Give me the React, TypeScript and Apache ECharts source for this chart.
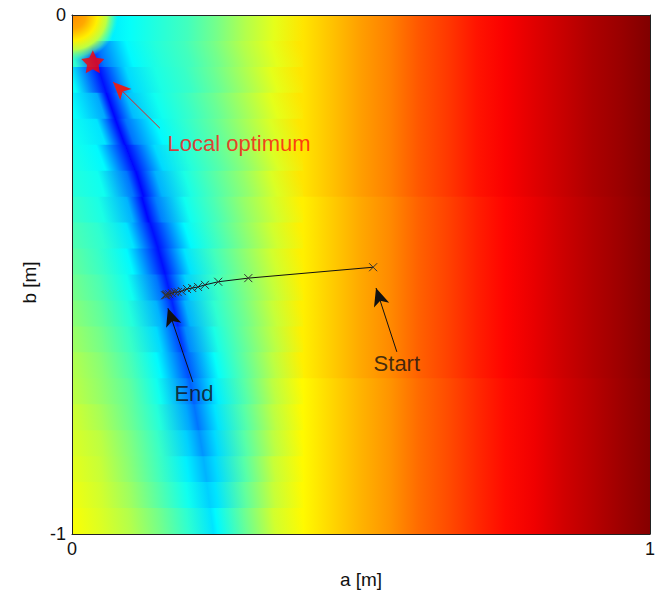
import React, { useEffect, useRef } from "react";
import * as echarts from "echarts";

// ---- Field (cost surface) ----
// column positions along a [m]
const aColumns = [0, 0.05, 0.1, 0.15, 0.2, 0.25, 0.3, 0.35, 0.4, 0.45, 0.5, 0.55, 0.6, 0.65, 0.7, 0.75, 0.8, 0.85, 0.9, 0.95, 1.0];
// horizontal band edges along b [m]
const bEdges = [0, -0.05, -0.1, -0.15, -0.2, -0.25, -0.3, -0.35, -0.4, -0.45, -0.5, -0.55, -0.6, -0.65, -0.7, -0.75, -0.8, -0.85, -0.9, -0.95, -1.0];
// valley (minimum) position and level per band
const valleyA = [0.07, 0.038, 0.052, 0.067, 0.083, 0.1, 0.117, 0.127, 0.142, 0.155, 0.167, 0.178, 0.188, 0.198, 0.207, 0.215, 0.223, 0.23, 0.236, 0.242];
const valleyV = [0.36, 0.18, 0.14, 0.13, 0.13, 0.13, 0.13, 0.13, 0.14, 0.14, 0.15, 0.16, 0.18, 0.2, 0.22, 0.24, 0.27, 0.3, 0.33, 0.35];
// normalised level (0 = dark blue, 1 = dark red) per band and column
const fieldRows = [
  [0.50, 0.42, 0.38, 0.41, 0.44, 0.49, 0.55, 0.60, 0.65, 0.685, 0.72, 0.75, 0.79, 0.82, 0.855, 0.88, 0.905, 0.93, 0.955, 0.975, 1.0],
  [0.42, 0.24, 0.37, 0.41, 0.44, 0.49, 0.55, 0.60, 0.65, 0.685, 0.72, 0.75, 0.79, 0.82, 0.855, 0.88, 0.905, 0.93, 0.955, 0.975, 1.0],
  [0.38, 0.15, 0.34, 0.40, 0.43, 0.48, 0.54, 0.60, 0.65, 0.685, 0.72, 0.75, 0.79, 0.82, 0.855, 0.88, 0.905, 0.93, 0.955, 0.975, 1.0],
  [0.38, 0.29, 0.31, 0.39, 0.43, 0.48, 0.54, 0.60, 0.65, 0.685, 0.72, 0.75, 0.79, 0.82, 0.855, 0.88, 0.905, 0.93, 0.955, 0.975, 1.0],
  [0.39, 0.35, 0.24, 0.37, 0.42, 0.47, 0.53, 0.59, 0.65, 0.685, 0.72, 0.75, 0.79, 0.82, 0.855, 0.88, 0.905, 0.93, 0.955, 0.975, 1.0],
  [0.40, 0.37, 0.14, 0.34, 0.41, 0.46, 0.52, 0.59, 0.65, 0.685, 0.72, 0.75, 0.79, 0.82, 0.855, 0.88, 0.905, 0.93, 0.955, 0.975, 1.0],
  [0.41, 0.39, 0.24, 0.30, 0.40, 0.46, 0.52, 0.59, 0.65, 0.685, 0.72, 0.75, 0.79, 0.82, 0.855, 0.88, 0.905, 0.93, 0.955, 0.975, 1.0],
  [0.43, 0.40, 0.30, 0.25, 0.39, 0.45, 0.52, 0.58, 0.64, 0.675, 0.71, 0.74, 0.78, 0.81, 0.845, 0.872, 0.898, 0.925, 0.95, 0.972, 0.998],
  [0.45, 0.42, 0.35, 0.17, 0.37, 0.44, 0.51, 0.58, 0.64, 0.675, 0.71, 0.74, 0.78, 0.81, 0.845, 0.872, 0.898, 0.925, 0.95, 0.972, 0.998],
  [0.47, 0.43, 0.37, 0.16, 0.35, 0.44, 0.51, 0.58, 0.64, 0.675, 0.71, 0.74, 0.78, 0.81, 0.845, 0.872, 0.898, 0.925, 0.95, 0.972, 0.998],
  [0.49, 0.45, 0.39, 0.24, 0.33, 0.43, 0.50, 0.57, 0.64, 0.675, 0.71, 0.74, 0.78, 0.81, 0.845, 0.872, 0.898, 0.925, 0.95, 0.972, 0.998],
  [0.51, 0.47, 0.41, 0.30, 0.30, 0.42, 0.49, 0.57, 0.64, 0.675, 0.71, 0.74, 0.78, 0.81, 0.845, 0.872, 0.898, 0.925, 0.95, 0.972, 0.998],
  [0.53, 0.49, 0.43, 0.34, 0.26, 0.40, 0.48, 0.56, 0.64, 0.675, 0.71, 0.74, 0.78, 0.81, 0.845, 0.872, 0.898, 0.925, 0.95, 0.972, 0.998],
  [0.55, 0.51, 0.45, 0.37, 0.21, 0.38, 0.47, 0.56, 0.64, 0.675, 0.71, 0.74, 0.78, 0.81, 0.845, 0.872, 0.898, 0.925, 0.95, 0.972, 0.998],
  [0.56, 0.52, 0.47, 0.39, 0.25, 0.36, 0.46, 0.56, 0.63, 0.665, 0.70, 0.73, 0.77, 0.80, 0.835, 0.865, 0.89, 0.92, 0.945, 0.97, 0.995],
  [0.58, 0.54, 0.48, 0.41, 0.29, 0.35, 0.46, 0.56, 0.63, 0.665, 0.70, 0.73, 0.77, 0.80, 0.835, 0.865, 0.89, 0.92, 0.945, 0.97, 0.995],
  [0.59, 0.56, 0.50, 0.43, 0.33, 0.34, 0.46, 0.56, 0.63, 0.665, 0.70, 0.73, 0.77, 0.80, 0.835, 0.865, 0.89, 0.92, 0.945, 0.97, 0.995],
  [0.60, 0.57, 0.51, 0.44, 0.36, 0.34, 0.46, 0.57, 0.63, 0.665, 0.70, 0.73, 0.77, 0.80, 0.835, 0.865, 0.89, 0.92, 0.945, 0.97, 0.995],
  [0.61, 0.58, 0.53, 0.46, 0.39, 0.35, 0.47, 0.57, 0.63, 0.665, 0.70, 0.73, 0.77, 0.80, 0.835, 0.865, 0.89, 0.92, 0.945, 0.97, 0.995],
  [0.62, 0.59, 0.55, 0.49, 0.42, 0.37, 0.48, 0.58, 0.63, 0.665, 0.70, 0.73, 0.77, 0.80, 0.835, 0.865, 0.89, 0.92, 0.945, 0.97, 0.995],
];
// the valley region (left of this a) follows the valley's slant; the rest is upright
const SLANT_SPLIT_A = 0.4;

// ---- High spot in the top-left corner ----
const blobCenterA = [0];
const blobCenterB = [0];
const blobRadiusA = [0.08];
const blobRadialPos = [0, 0.3, 0.55, 0.75, 0.9, 1];
const blobLevels = [0.74, 0.71, 0.64, 0.56, 0.47, 0.42];
const blobOpacity = [1, 1, 1, 1, 0.6, 0];

// ---- Optimisation path (Start -> End) ----
const pathA = [0.521, 0.305, 0.253, 0.23, 0.218, 0.208, 0.199, 0.19, 0.183, 0.178, 0.173, 0.168, 0.164, 0.163, 0.161];
const pathB = [-0.486, -0.507, -0.514, -0.52, -0.524, -0.526, -0.528, -0.532, -0.534, -0.534, -0.536, -0.538, -0.538, -0.54, -0.54];

// ---- Local optimum ----
const optimumA = [0.036];
const optimumB = [-0.09];

// ---- Annotations ----
const labelTexts = ["Local optimum", "Start", "End"];
const labelA = [0.289, 0.562, 0.211];
const labelB = [-0.247, -0.672, -0.73];
const labelColors = ["#ff1010", "#111111", "#111111"];
const arrowTailA = [0.152, 0.562, 0.209];
const arrowTailB = [-0.218, -0.649, -0.707];
const arrowTipA = [0.071, 0.526, 0.166];
const arrowTipB = [-0.129, -0.526, -0.565];
const arrowColors = ["#e02020", "#111111", "#111111"];

const xTicks = [0, 1];
const yTicks = [-1, 0];

const FONT = "'Liberation Sans', Arial, Helvetica, sans-serif";

function jet(v: number, alpha = 1): string {
  const c = (x: number) => Math.max(0, Math.min(1, x));
  const r = c(1.5 - Math.abs(4 * v - 3));
  const g = c(1.5 - Math.abs(4 * v - 2));
  const b = c(1.5 - Math.abs(4 * v - 1));
  return `rgba(${Math.round(r * 255)},${Math.round(g * 255)},${Math.round(b * 255)},${alpha})`;
}

export default function App() {
  const ref = useRef<HTMLDivElement>(null);

  useEffect(() => {
    if (!ref.current) return;
    const chart = echarts.init(ref.current, undefined, { renderer: "svg" });
    const nRows = fieldRows.length;

    // colour stops of each band, split into the slanted (left) and upright (right) parts
    const leftStops = fieldRows.map((row, i) => {
      const s = row
        .map((v, j) => ({ a: aColumns[j], v }))
        .filter((p) => p.a <= SLANT_SPLIT_A);
      s.push({ a: valleyA[i], v: valleyV[i] });
      s.sort((p, q) => p.a - q.a);
      return s.map((p) => ({ offset: p.a / SLANT_SPLIT_A, color: jet(p.v) }));
    });
    const rightStops = fieldRows.map((row) =>
      row
        .map((v, j) => ({ a: aColumns[j], v }))
        .filter((p) => p.a >= SLANT_SPLIT_A)
        .map((p) => ({ offset: (p.a - SLANT_SPLIT_A) / (1 - SLANT_SPLIT_A), color: jet(p.v) }))
    );
    const blobStops = blobRadialPos.map((o, k) => ({ offset: o, color: jet(blobLevels[k], blobOpacity[k]) }));

    const fieldData = fieldRows.map((_, i) => [0, bEdges[i], 1, bEdges[i + 1], i]);

    const axisLineStyle = { show: true, lineStyle: { color: "#222", width: 1 } };

    const option: any = {
      animation: false,
      backgroundColor: "#ffffff",
      grid: { left: 72, top: 15, right: 11, bottom: 65, containLabel: false },
      xAxis: [
        {
          type: "value", min: 0, max: 1, interval: 1, position: "bottom", z: 10,
          axisLine: { ...axisLineStyle, onZero: false },
          axisTick: { show: false },
          splitLine: { show: false },
          axisLabel: {
            fontSize: 18, color: "#111", margin: 6, fontFamily: FONT,
            formatter: (v: number) => (xTicks.includes(v) ? String(v) : ""),
          },
          name: "a [m]", nameLocation: "middle", nameGap: 36,
          nameTextStyle: { fontSize: 19, color: "#111", fontFamily: FONT },
        },
        {
          type: "value", min: 0, max: 1, interval: 1, position: "top", z: 10,
          axisLine: { ...axisLineStyle, onZero: false },
          axisTick: { show: false }, axisLabel: { show: false }, splitLine: { show: false },
        },
      ],
      yAxis: [
        {
          type: "value", min: -1, max: 0, interval: 1, position: "left", z: 10,
          axisLine: { ...axisLineStyle, onZero: false },
          axisTick: { show: false },
          splitLine: { show: false },
          axisLabel: {
            fontSize: 18, color: "#111", margin: 6, fontFamily: FONT,
            formatter: (v: number) => (yTicks.includes(v) ? String(v) : ""),
          },
          name: "b [m]", nameLocation: "middle", nameGap: 32, nameRotate: 90,
          nameTextStyle: { fontSize: 19, color: "#111", fontFamily: FONT, padding: [0, 16, 0, 0] },
        },
        {
          type: "value", min: -1, max: 0, interval: 1, position: "right", z: 10,
          axisLine: { ...axisLineStyle, onZero: false },
          axisTick: { show: false }, axisLabel: { show: false }, splitLine: { show: false },
        },
      ],
      series: [
        {
          type: "custom",
          xAxisIndex: 0, yAxisIndex: 0,
          silent: true,
          z: 1,
          data: fieldData,
          renderItem: (params: any, api: any) => {
            const i = api.value(4);
            const p0 = api.coord([api.value(0), api.value(1)]);
            const p1 = api.coord([api.value(2), api.value(3)]);
            const ps = api.coord([SLANT_SPLIT_A, api.value(1)]);
            const last = i === nRows - 1;
            const h = p1[1] - p0[1];
            // slant of the valley (px across per px down) from neighbouring bands
            let slope = 0;
            if (i >= 1) {
              const lo = Math.max(i - 1, 1);
              const hi = Math.min(i + 1, nRows - 1);
              const dx = api.coord([valleyA[hi], 0])[0] - api.coord([valleyA[lo], 0])[0];
              slope = dx / ((hi - lo) * h);
            }
            const yc = (p0[1] + p1[1]) / 2;
            const wl = ps[0] - p0[0];
            const k = 1 / (1 + slope * slope);
            const leftFill = new echarts.graphic.LinearGradient(
              p0[0], yc, p0[0] + wl * k, yc - slope * wl * k, leftStops[i], true
            );
            const rightFill = new echarts.graphic.LinearGradient(0, 0, 1, 0, rightStops[i]);
            const hh = h + (last ? 0 : 0.8);
            return {
              type: "group",
              children: [
                { type: "rect", shape: { x: p0[0], y: p0[1], width: wl + 0.8, height: hh }, style: { fill: leftFill } },
                { type: "rect", shape: { x: ps[0], y: p0[1], width: p1[0] - ps[0], height: hh }, style: { fill: rightFill } },
              ],
            };
          },
        },
        {
          type: "custom",
          xAxisIndex: 0, yAxisIndex: 0,
          silent: true,
          z: 2,
          data: blobCenterA.map((a, k) => [a, blobCenterB[k], blobRadiusA[k]]),
          renderItem: (params: any, api: any) => {
            const c = api.coord([api.value(0), api.value(1)]);
            const r = api.coord([api.value(0) + api.value(2), api.value(1)])[0] - c[0];
            return {
              type: "sector",
              shape: { cx: c[0], cy: c[1], r0: 0, r, startAngle: 0, endAngle: Math.PI / 2, clockwise: true },
              style: { fill: new echarts.graphic.RadialGradient(c[0], c[1], r, blobStops, true) },
            };
          },
        },
        {
          type: "line",
          xAxisIndex: 0, yAxisIndex: 0,
          z: 5,
          data: pathA.map((a, k) => [a, pathB[k]]),
          symbol: "path://M0,0L10,10M0,10L10,0",
          symbolSize: 8,
          showAllSymbol: true,
          lineStyle: { color: "#111", width: 1 },
          itemStyle: { color: "#333", borderColor: "#333", borderWidth: 1 },
        },
        {
          type: "scatter",
          xAxisIndex: 0, yAxisIndex: 0,
          z: 6,
          data: optimumA.map((a, k) => [a, optimumB[k]]),
          symbol: "path://M50,0L64.69,29.77L97.55,34.55L73.78,57.73L79.39,90.45L50,75L20.61,90.45L26.22,57.73L2.45,34.55L35.31,29.77Z",
          symbolSize: 23,
          itemStyle: { color: "#ff0000" },
        },
        {
          type: "line",
          xAxisIndex: 0, yAxisIndex: 0,
          z: 6,
          data: [],
          markLine: {
            silent: true,
            symbol: ["none", "arrow"],
            symbolSize: [12, 18],
            label: { show: false },
            data: arrowTailA.map((a, k) => [
              { coord: [a, arrowTailB[k]], lineStyle: { color: arrowColors[k], width: 1, type: "solid" } },
              { coord: [arrowTipA[k], arrowTipB[k]] },
            ]),
          },
        },
        {
          type: "scatter",
          xAxisIndex: 0, yAxisIndex: 0,
          z: 7,
          symbolSize: 1,
          itemStyle: { color: "rgba(0,0,0,0)" },
          data: labelTexts.map((t, k) => ({
            name: t,
            value: [labelA[k], labelB[k]],
            label: {
              show: true, position: "inside", formatter: t,
              color: labelColors[k], fontSize: 22, fontFamily: FONT,
            },
          })),
        },
      ],
    };

    chart.setOption(option);
    return () => chart.dispose();
  }, []);

  return (
    <div
      ref={ref}
      style={{ position: "fixed", left: 0, top: 0, width: 661, height: 599, background: "#fff" }}
    />
  );
}
